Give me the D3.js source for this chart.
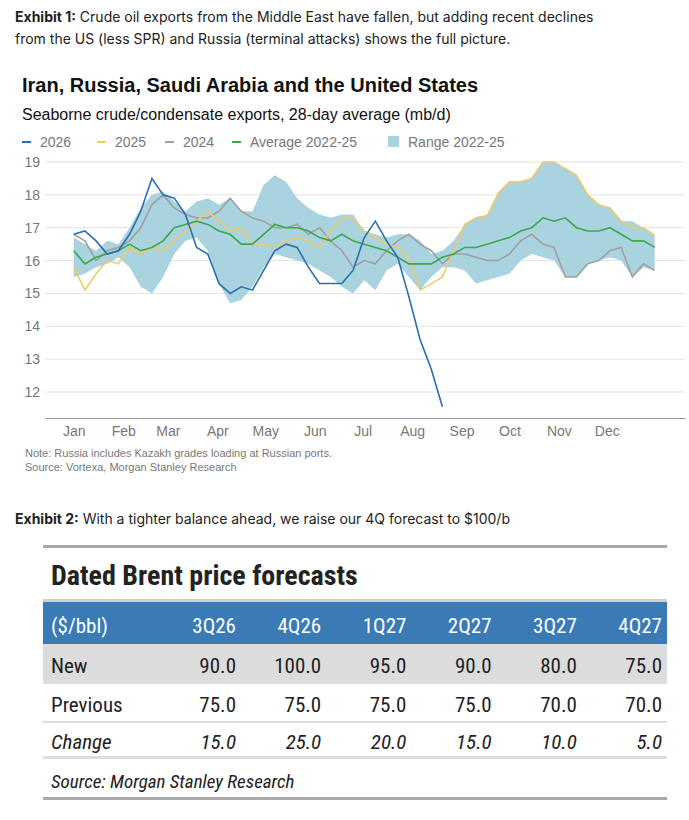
<!DOCTYPE html>
<html>
<head>
<meta charset="utf-8">
<script src="https://cdn.jsdelivr.net/npm/d3@7"></script>
<style>
    body { margin: 0; background: #fff; }
    svg text { font-family: Inter, "Noto Sans", sans-serif; }
</style>
</head>
<body>
<svg id="chart" width="689" height="820"></svg>
<script>
// weekly samples, day of year
const days = d3.range(0, 365, 7);
const s2026 = [16.8, 16.9, 16.6, 16.2, 16.3, 16.8, 17.5, 18.5, 18.0, 17.9, 17.4, 16.4, 16.2, 15.3, 15.0, 15.2, 15.1, 15.7, 16.3, 16.5, 16.4, 15.8, 15.3, 15.3, 15.3, 15.7, 16.7, 17.2, 16.6, 16.1, 14.9, 13.6, 12.7, 11.55];
const s2025 = [15.8, 15.1, 15.6, 16.0, 15.9, 16.4, 16.2, 16.4, 16.3, 16.6, 16.9, 17.2, 17.5, 17.2, 16.9, 17.0, 16.5, 16.5, 16.4, 16.6, 16.7, 16.6, 16.4, 16.9, 17.3, 17.3, 16.9, 16.7, 16.5, 16.4, 16.1, 15.1, 15.3, 15.5, 16.3, 17.1, 17.3, 17.35, 18.05, 18.4, 18.4, 18.5, 19.0, 19.0, 18.8, 18.6, 18.0, 17.7, 17.6, 17.2, 17.0, 17.0, 16.75];
const s2024 = [16.8, 16.6, 16.0, 16.3, 16.4, 16.6, 17.0, 17.7, 18.0, 17.6, 17.4, 17.3, 17.3, 17.5, 17.9, 17.5, 17.3, 17.2, 17.0, 17.0, 17.1, 16.8, 17.0, 16.6, 16.3, 15.8, 16.0, 15.9, 16.3, 16.6, 16.8, 16.5, 16.3, 15.9, 16.2, 16.2, 16.1, 16.0, 16.0, 16.2, 16.6, 16.8, 16.5, 16.4, 15.5, 15.5, 15.9, 16.0, 16.3, 16.4, 15.5, 15.9, 15.7];
const avg = [16.3, 15.9, 16.1, 16.2, 16.3, 16.5, 16.3, 16.4, 16.6, 17.0, 17.1, 17.2, 17.1, 16.9, 16.8, 16.5, 16.5, 16.8, 17.1, 17.0, 17.0, 16.9, 16.7, 16.6, 16.8, 16.6, 16.5, 16.4, 16.3, 16.1, 15.9, 15.9, 15.9, 16.1, 16.2, 16.4, 16.4, 16.5, 16.6, 16.7, 16.9, 17.0, 17.3, 17.2, 17.3, 17.0, 16.9, 16.9, 17.0, 16.8, 16.6, 16.6, 16.4];
const rangeLow = [15.5, 15.6, 15.8, 15.9, 16.1, 15.8, 15.2, 15.0, 15.5, 16.2, 16.6, 16.7, 16.3, 15.3, 14.7, 14.8, 15.2, 15.8, 16.2, 16.1, 16.0, 15.9, 15.7, 15.5, 15.2, 15.0, 15.4, 15.1, 15.7, 15.9, 15.5, 15.1, 15.5, 15.8, 15.8, 15.7, 15.3, 15.4, 15.5, 15.6, 16.0, 16.2, 16.1, 16.0, 15.5, 15.5, 15.9, 16.0, 16.1, 16.0, 15.5, 15.8, 15.7];
const rangeHigh = [16.7, 16.5, 16.3, 16.6, 16.5, 17.0, 17.6, 18.0, 18.1, 17.8, 17.5, 17.8, 17.9, 17.7, 17.9, 17.5, 17.5, 18.3, 18.6, 18.4, 17.9, 17.6, 17.4, 17.3, 17.4, 17.4, 16.9, 16.8, 16.7, 16.8, 16.8, 16.6, 16.2, 16.3, 16.6, 17.1, 17.3, 17.4, 18.05, 18.4, 18.4, 18.5, 19.0, 19.0, 18.8, 18.6, 18.0, 17.7, 17.6, 17.2, 17.2, 17.0, 16.8];
const months = ["Jan", "Feb", "Mar", "Apr", "May", "Jun", "Jul", "Aug", "Sep", "Oct", "Nov", "Dec"];
const monthStarts = [0, 31, 59, 90, 120, 151, 181, 212, 243, 273, 304, 334];
const yTicks = [12, 13, 14, 15, 16, 17, 18, 19];

// table data
const quarters = ["3Q26", "4Q26", "1Q27", "2Q27", "3Q27", "4Q27"];
const newForecast = [90.0, 100.0, 95.0, 90.0, 80.0, 75.0];
const prevForecast = [75.0, 75.0, 75.0, 75.0, 70.0, 70.0];
const changeForecast = [15.0, 25.0, 20.0, 15.0, 10.0, 5.0];

const svg = d3.select("#chart");

// exhibit captions
function caption(y, bold, rest) {
    const t = svg.append("text").attr("x", 15).attr("y", y).style("font-size", 14).style("fill", "#222");
    t.append("tspan").style("font-weight", "bold").text(bold);
    return t.append("tspan").text(rest);
}
caption(22, "Exhibit 1:", " Crude oil exports from the Middle East have fallen, but adding recent declines");
svg.append("text").attr("x", 15).attr("y", 44).style("font-size", 14).style("fill", "#222")
    .text("from the US (less SPR) and Russia (terminal attacks) shows the full picture.");

svg.append("text").attr("x", 22).attr("y", 92)
    .style("font-family", "'Liberation Sans', Arial").style("font-weight", "bold").style("font-size", 20).style("fill", "#111")
    .text("Iran, Russia, Saudi Arabia and the United States");
svg.append("text").attr("x", 22).attr("y", 120)
    .style("font-family", "'Liberation Sans', Arial").style("font-size", 16).style("fill", "#111")
    .text("Seaborne crude/condensate exports, 28-day average (mb/d)");

// scales
const x = d3.scaleLinear().domain([-18, 383]).range([45, 685]);
const y = d3.scaleLinear().domain([19, 12]).range([162, 392]);

// gridlines
svg.append("g").selectAll("line").data(yTicks).enter().append("line")
    .attr("x1", 45).attr("x2", 685)
    .attr("y1", (d) => y(d)).attr("y2", (d) => y(d))
    .style("stroke", "#e2e2e2");

// y labels
svg.append("g").selectAll("text").data(yTicks).enter().append("text")
    .attr("x", 40).attr("y", (d) => y(d) + 5).attr("text-anchor", "end")
    .style("font-family", "'Liberation Sans', Arial").style("font-size", 14).style("fill", "#777")
    .text((d) => d);

// x axis
svg.append("g").attr("transform", "translate(0,418)")
    .call(d3.axisBottom(x).tickValues(monthStarts).tickFormat((d, i) => months[i]).tickSize(0).tickPadding(8))
    .call((g) => g.select(".domain").style("stroke", "#999"))
    .call((g) => g.selectAll("text").style("font-family", "'Liberation Sans', Arial").style("font-size", 14).style("fill", "#777"));

// range band
const area = d3.area()
    .x((d, i) => x(days[i]))
    .y0((d, i) => y(rangeLow[i]))
    .y1((d) => y(d));
svg.append("path").datum(rangeHigh).attr("d", area).style("fill", "#a8d3df");

const line = d3.line().x((d, i) => x(days[i])).y((d) => y(d));
[[s2024, "#a0a0a0"], [s2025, "#efc96c"], [avg, "#3da84c"], [s2026, "#2a6fb0"]].forEach(([data, c]) => {
    svg.append("path").datum(data).attr("d", line)
        .style("fill", "none").style("stroke", c).style("stroke-width", 1.6);
});

// legend
const legend = [["2026", "#2a6fb0", 22], ["2025", "#efc96c", 97], ["2024", "#a0a0a0", 165], ["Average 2022-25", "#3da84c", 232]];
legend.forEach(([label, c, lx]) => {
    svg.append("line").attr("x1", lx).attr("x2", lx + 9).attr("y1", 142).attr("y2", 142)
        .style("stroke", c).style("stroke-width", 2);
    svg.append("text").attr("x", lx + 18).attr("y", 147)
        .style("font-family", "'Liberation Sans', Arial").style("font-size", 14).style("fill", "#777").text(label);
});
svg.append("rect").attr("x", 388).attr("y", 136).attr("width", 11).attr("height", 11).style("fill", "#a8d3df");
svg.append("text").attr("x", 408).attr("y", 147)
    .style("font-family", "'Liberation Sans', Arial").style("font-size", 14).style("fill", "#777").text("Range 2022-25");

// notes
svg.append("text").attr("x", 25).attr("y", 457).style("font-family", "'Liberation Sans', Arial").style("font-size", 11).style("fill", "#777")
    .text("Note: Russia includes Kazakh grades loading at Russian ports.");
svg.append("text").attr("x", 25).attr("y", 471).style("font-family", "'Liberation Sans', Arial").style("font-size", 11).style("fill", "#777")
    .text("Source: Vortexa, Morgan Stanley Research");

caption(524, "Exhibit 2:", " With a tighter balance ahead, we raise our 4Q forecast to $100/b").style("font-size", 14);

// table
const narrow = "'Liberation Sans Narrow', 'Roboto Condensed', 'Open Sans', sans-serif";
const colX = d3.scalePoint().domain(quarters).range([236, 662]);
const tL = 43, tR = 667;
const rule = (yy, w, c) => svg.append("rect").attr("x", tL).attr("y", yy).attr("width", tR - tL).attr("height", w).style("fill", c);
rule(545, 3, "#aaa");
svg.append("text").attr("x", 51).attr("y", 585).style("font-family", narrow).style("font-weight", "bold")
    .style("font-size", 28).style("fill", "#222").text("Dated Brent price forecasts");
rule(599, 3, "#d0d0d0");
svg.append("rect").attr("x", tL).attr("y", 602).attr("width", tR - tL).attr("height", 42).style("fill", "#3a7ab5");
svg.append("rect").attr("x", tL).attr("y", 644).attr("width", tR - tL).attr("height", 40).style("fill", "#dcdcdc");
rule(721, 2, "#ddd");
rule(756, 3, "#ddd");
rule(797, 3, "#aaa");

const rows = [
    ["($/bbl)", quarters, 633, "#fff", "normal"],
    ["New", newForecast.map((v) => v.toFixed(1)), 673, "#222", "normal"],
    ["Previous", prevForecast.map((v) => v.toFixed(1)), 712, "#222", "normal"],
    ["Change", changeForecast.map((v) => v.toFixed(1)), 749, "#222", "italic"]
];
rows.forEach(([label, vals, ry, c, st]) => {
    svg.append("text").attr("x", 51).attr("y", ry).style("font-family", narrow).style("font-size", 21)
        .style("font-style", st).style("fill", c).text(label);
    svg.append("g").selectAll("text").data(vals).enter().append("text")
        .attr("x", (d, i) => colX(quarters[i])).attr("y", ry).attr("text-anchor", "end")
        .style("font-family", narrow).style("font-size", 21).style("font-style", st).style("fill", c)
        .text((d) => d);
});
svg.append("text").attr("x", 51).attr("y", 788).style("font-family", narrow).style("font-size", 19)
    .style("font-style", "italic").style("fill", "#222").text("Source: Morgan Stanley Research");
</script>
</body>
</html>
